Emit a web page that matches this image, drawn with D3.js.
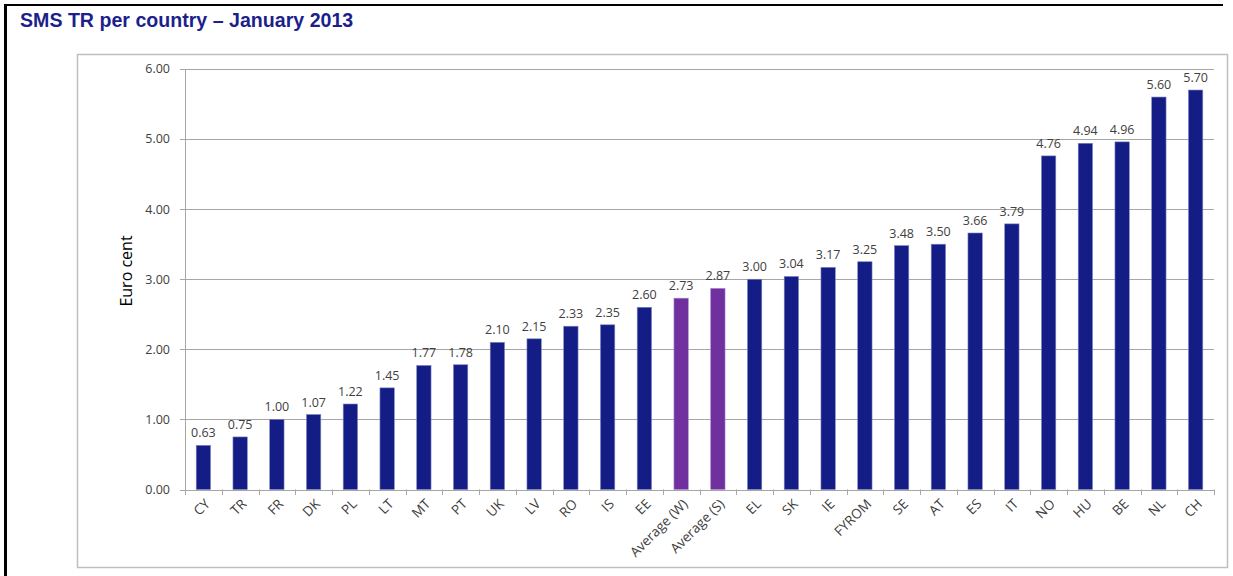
<!DOCTYPE html>
<html lang="en">
<head>
<meta charset="UTF-8">
<title>SMS TR per country – January 2013</title>
<style>
  body { margin: 0; background: #fff; }
  svg { display: block; }
</style>
</head>
<body>
<svg id="chart" width="1233" height="576"></svg>
<script src="https://d3js.org/d3.v7.min.js"></script>
<script>
// Data

const countries = ["CY", "TR", "FR", "DK", "PL", "LT", "MT", "PT", "UK", "LV", "RO", "IS", "EE",
  "Average (W)", "Average (S)", "EL", "SK", "IE", "FYROM", "SE", "AT", "ES", "IT", "NO", "HU", "BE", "NL", "CH"];
const values = [0.63, 0.75, 1.00, 1.07, 1.22, 1.45, 1.77, 1.78, 2.10, 2.15, 2.33, 2.35, 2.60,
  2.73, 2.87, 3.00, 3.04, 3.17, 3.25, 3.48, 3.50, 3.66, 3.79, 4.76, 4.94, 4.96, 5.60, 5.70];
const averages = ["Average (W)", "Average (S)"];
const yTicks = [0, 1, 2, 3, 4, 5, 6];

const data = countries.map((c, i) => ({ country: c, value: values[i] }));

// Layout

const plot = { left: 185, right: 1214, top: 69, bottom: 489.5 };
const svg = d3.select("#chart");
const font = "'Open Sans', sans-serif";

// Frames

svg.append("line").attr("x1", 5.5).attr("x2", 5.5).attr("y1", 4).attr("y2", 576)
  .attr("stroke", "#000").attr("stroke-width", 3);
svg.append("line").attr("x1", 4).attr("x2", 1223).attr("y1", 5).attr("y2", 5)
  .attr("stroke", "#000").attr("stroke-width", 2);

svg.append("rect").attr("x", 77.5).attr("y", 54.5).attr("width", 1150).attr("height", 513)
  .attr("fill", "none").attr("stroke", "#bfbfbf").attr("stroke-width", 1.5);

// Title

svg.append("text")
  .attr("x", 20).attr("y", 27)
  .attr("font-family", "'Liberation Sans', Arial, sans-serif")
  .attr("font-weight", "bold").attr("font-size", 19.6)
  .attr("fill", "#1c1f8c")
  .text("SMS TR per country – January 2013");

// Scales

const x = d3.scaleBand().domain(countries).range([plot.left, plot.right]).paddingInner(0).paddingOuter(0);
const y = d3.scaleLinear().domain([0, 6]).range([plot.bottom, plot.top]);
const barW = x.bandwidth() * 0.39;

// Grid

svg.append("g")
  .selectAll("line")
  .data(yTicks)
  .join("line")
    .attr("x1", plot.left - 5).attr("x2", plot.right)
    .attr("y1", d => Math.round(y(d)) + 0.5).attr("y2", d => Math.round(y(d)) + 0.5)
    .attr("stroke", "#a6a6a6").attr("stroke-width", 1);

svg.append("line")
  .attr("x1", plot.left + 0.5).attr("x2", plot.left + 0.5)
  .attr("y1", plot.top).attr("y2", plot.bottom + 5)
  .attr("stroke", "#a6a6a6");

// x tick marks at band edges
const edges = countries.map(c => x(c)).concat([plot.right]);
svg.append("g")
  .selectAll("line")
  .data(edges)
  .join("line")
    .attr("x1", d => Math.round(d) + 0.5).attr("x2", d => Math.round(d) + 0.5)
    .attr("y1", plot.bottom).attr("y2", plot.bottom + 5.5)
    .attr("stroke", "#a6a6a6");

// y labels

svg.append("g")
  .selectAll("text")
  .data(yTicks)
  .join("text")
    .attr("x", 170).attr("y", d => y(d))
    .attr("dy", "0.35em")
    .attr("text-anchor", "end")
    .attr("font-family", font).attr("font-size", 12.5)
    .attr("fill", "#404040")
    .text(d => d3.format(".2f")(d));

svg.append("text")
  .attr("transform", "translate(132,271) rotate(-90)")
  .attr("text-anchor", "middle")
  .attr("font-family", font).attr("font-size", 16)
  .attr("fill", "#000")
  .text("Euro cent");

// Bars

svg.append("g")
  .selectAll("rect")
  .data(data)
  .join("rect")
    .attr("x", d => x(d.country) + (x.bandwidth() - barW) / 2)
    .attr("y", d => y(d.value))
    .attr("width", barW)
    .attr("height", d => y(0) - y(d.value))
    .attr("fill", d => averages.includes(d.country) ? "#7030a0" : "#141d86")
    .attr("stroke", d => averages.includes(d.country) ? "#a98cc8" : "#7f86c0")
    .attr("stroke-width", 0.6);

// Value labels

svg.append("g")
  .selectAll("text")
  .data(data)
  .join("text")
    .attr("x", d => x(d.country) + x.bandwidth() / 2)
    .attr("y", d => y(d.value) - 8)
    .attr("text-anchor", "middle")
    .attr("font-family", font).attr("font-size", 12.5)
    .attr("fill", "#404040")
    .text(d => d3.format(".2f")(d.value));

// Category labels

svg.append("g")
  .selectAll("text")
  .data(countries)
  .join("text")
    .attr("transform", d => `translate(${x(d) + x.bandwidth() / 2 + 4},${plot.bottom + 12}) rotate(-45)`)
    .attr("text-anchor", "end")
    .attr("dy", "0.35em")
    .attr("font-family", font).attr("font-size", 13.5)
    .attr("fill", "#404040")
    .text(d => d);
</script>
</body>
</html>
